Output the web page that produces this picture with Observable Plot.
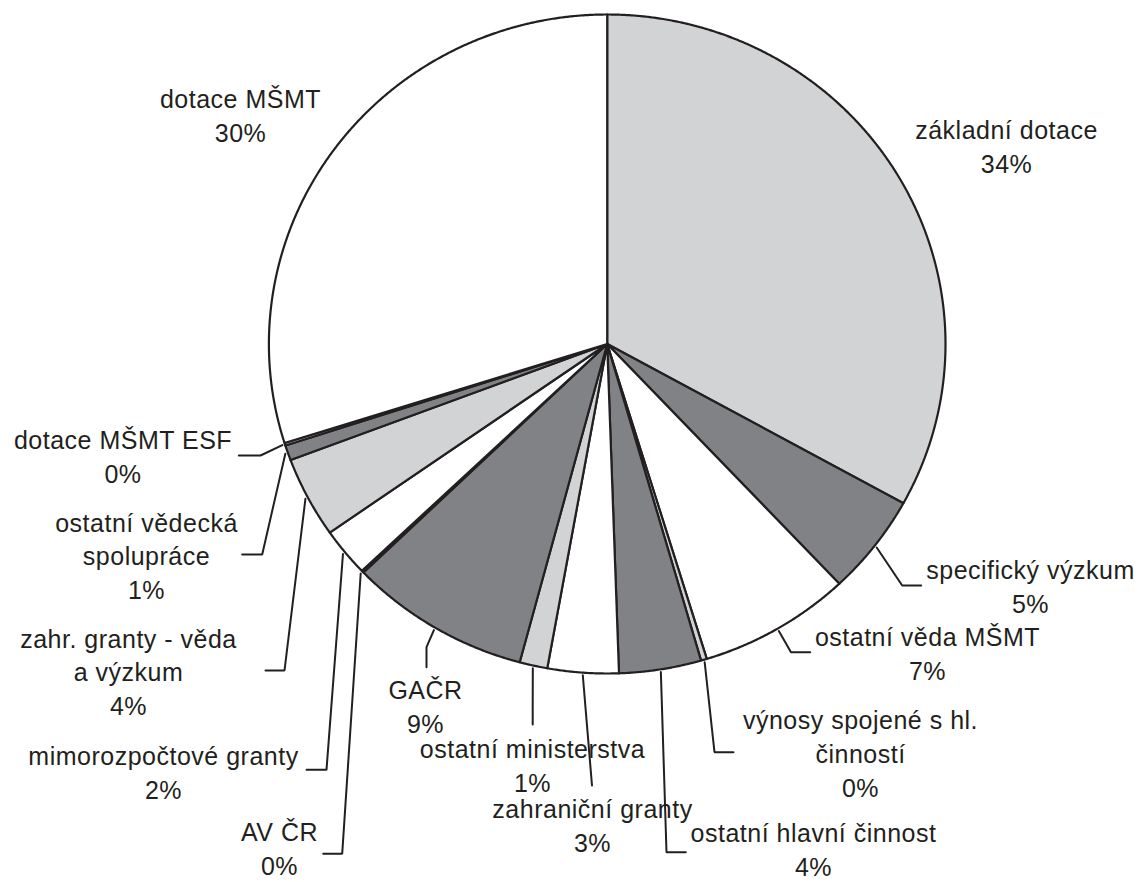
<!DOCTYPE html>
<html>
<head>
<meta charset="utf-8">
<script src="https://cdn.jsdelivr.net/npm/d3@7"></script>
<script src="https://cdn.jsdelivr.net/npm/@observablehq/plot@0.6"></script>
<style>
  html, body { margin: 0; padding: 0; background: #ffffff; }
  #chart svg { display: block; }
</style>
</head>
<body>
<div id="chart"></div>
<script>
// ---- data (clockwise from 12 o'clock) ----
const categories = [
  "základní dotace", "specifický výzkum", "ostatní věda MŠMT",
  "výnosy spojené s hl. činností", "ostatní hlavní činnost", "zahraniční granty",
  "ostatní ministerstva", "GAČR", "AV ČR", "mimorozpočtové granty",
  "zahr. granty - věda a výzkum", "ostatní vědecká spolupráce",
  "dotace MŠMT ESF", "dotace MŠMT"
];
// share of the total (%)
const shares = [33.03, 4.94, 7.28, 0.28, 3.92, 3.39, 1.33, 8.64, 0.11, 2.39, 3.97, 0.74, 0.13, 29.86];
// percentages printed in the labels
const percentLabels = ["34%", "5%", "7%", "0%", "4%", "3%", "1%", "9%", "0%", "2%", "4%", "1%", "0%", "30%"];
// label text as wrapped in the chart
const labelNames = [
  "základní dotace", "specifický výzkum", "ostatní věda MŠMT",
  "výnosy spojené s hl.\nčinností", "ostatní hlavní činnost", "zahraniční granty",
  "ostatní ministerstva", "GAČR", "AV ČR", "mimorozpočtové granty",
  "zahr. granty - věda\na výzkum", "ostatní vědecká\nspolupráce",
  "dotace MŠMT ESF", "dotace MŠMT"
];

// ---- styling / layout (not data) ----
const shadeOf = ["light", "dark", "white", "light", "dark", "white", "light", "dark", "white", "white", "light", "dark", "light", "white"];
const shadeDomain = ["light", "dark", "white"];
const shadeRange = ["#d1d3d4", "#808285", "#ffffff"];
const INK = "#231f20";
const PIE = {cx: 606.7, cy: 343.5, rx: 338.3, ry: 329.5};
// label block centre and leader elbow/end points (page pixels)
const labelLayout = [
  {tx: 1006, ty: 145,   leader: []},
  {tx: 1030, ty: 585,   leader: [[901.7, 585], [920.7, 585]]},
  {tx: 927,  ty: 651.7, leader: [[790.5, 651.7], [809.7, 651.7]]},
  {tx: 860,  ty: 751.7, leader: [[714, 751.7], [733, 751.7]]},
  {tx: 813,  ty: 848,   leader: [[666, 851.7], [685.3, 851.7]]},
  {tx: 592,  ty: 824,   leader: [[591.5, 785]]},
  {tx: 532,  ty: 763.5, leader: [[532.2, 705], [532.2, 724]]},
  {tx: 425,  ty: 705,   leader: [[426, 646.7], [426, 666.7]]},
  {tx: 279,  ty: 847,   leader: [[341.7, 853.3], [322.7, 853.3]]},
  {tx: 163,  ty: 771,   leader: [[326, 769.3], [306, 769.3]]},
  {tx: 128,  ty: 670,   leader: [[284, 670], [265, 670]]},
  {tx: 146,  ty: 554,   leader: [[261.7, 554], [241.7, 554]]},
  {tx: 122.5,ty: 455,   leader: [[260, 455], [238.3, 455]]},
  {tx: 240,  ty: 113.5, leader: []}
];

// ---- build geometry from data ----
const arcs = d3.pie().sort(null).value(d => d)(shares);
const px = (a, k = 1) => PIE.cx + k * PIE.rx * Math.sin(a);
const py = (a, k = 1) => PIE.cy - k * PIE.ry * Math.cos(a);

const slicePts = [];
arcs.forEach((arc, i) => {
  const name = categories[i];
  const shade = shadeOf[i];
  slicePts.push({name, shade, x: PIE.cx, y: PIE.cy});
  const n = Math.max(2, Math.ceil((arc.endAngle - arc.startAngle) / (Math.PI / 720)));
  for (let j = 0; j <= n; j++) {
    const a = arc.startAngle + (arc.endAngle - arc.startAngle) * j / n;
    slicePts.push({name, shade, x: px(a), y: py(a)});
  }
  slicePts.push({name, shade, x: PIE.cx, y: PIE.cy});
});

const leaderPts = [];
arcs.forEach((arc, i) => {
  const lay = labelLayout[i];
  if (!lay.leader.length) return;
  const mid = (arc.startAngle + arc.endAngle) / 2;
  leaderPts.push({name: categories[i], x: px(mid, 1.008), y: py(mid, 1.008)});
  lay.leader.forEach(([x, y]) => leaderPts.push({name: categories[i], x, y}));
});

const labels = categories.map((c, i) => ({
  name: c,
  text: labelNames[i] + "\n" + percentLabels[i],
  x: labelLayout[i].tx,
  y: labelLayout[i].ty
}));

const chart = Plot.plot({
  width: 1145,
  height: 882,
  margin: 0,
  style: "font-family: 'Liberation Sans', Arial, Helvetica, sans-serif; letter-spacing: 0.5px; background: #ffffff;",
  x: {domain: [0, 1145], range: [0, 1145], axis: null},
  y: {domain: [0, 882], range: [0, 882], axis: null},
  color: {type: "ordinal", domain: shadeDomain, range: shadeRange},
  marks: [
    Plot.line(slicePts, {x: "x", y: "y", z: "name", fill: "shade", stroke: INK, strokeWidth: 2.2, strokeLinejoin: "round", curve: "linear"}),
    Plot.line(leaderPts, {x: "x", y: "y", z: "name", stroke: INK, strokeWidth: 2, strokeLinejoin: "miter", fill: "none"}),
    Plot.text(labels, {x: "x", y: "y", text: "text", textAnchor: "middle", lineAnchor: "middle", lineHeight: 1.353, fontSize: 25, fill: INK})
  ]
});
document.getElementById("chart").appendChild(chart);
</script>
</body>
</html>
